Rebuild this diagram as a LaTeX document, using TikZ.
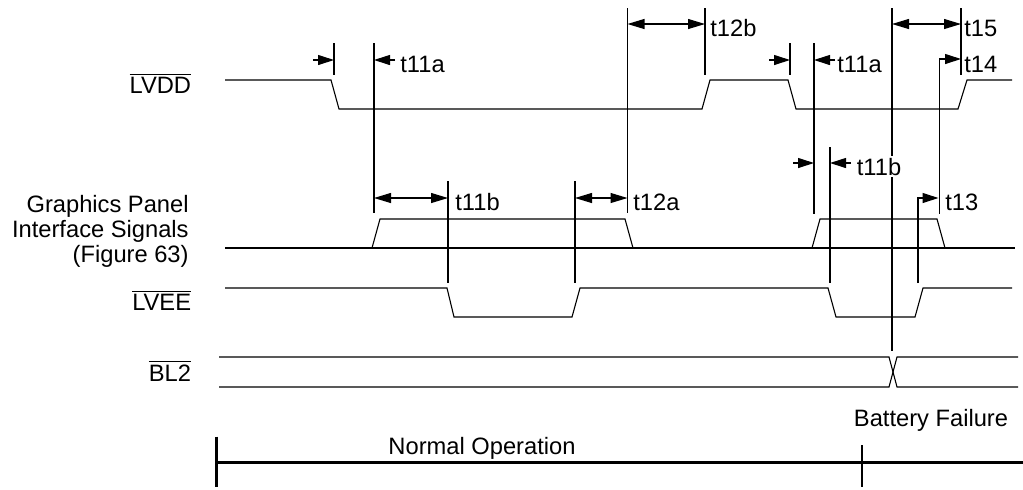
\documentclass[tikz,border=0pt]{standalone}
\usepackage{fontspec}
\setmainfont{Liberation Sans}
\usetikzlibrary{arrows.meta}

\newcommand{\ovl}[1]{$\overline{\mbox{#1}}$}

\begin{document}
\begin{tikzpicture}[
    x=0.5pt, y=-0.5pt,
    wave/.style={line width=0.55pt},
    guide/.style={line width=0.55pt},
    dimarrow/.style={line width=0.55pt, {Triangle[length=8.5pt,width=5pt]}-{Triangle[length=8.5pt,width=5pt]}},
    onearrow/.style={line width=0.55pt, -{Triangle[length=8pt,width=5pt]}},
    sig/.style={font=\fontsize{11.85}{13}\selectfont, anchor=base east, inner sep=0pt},
    tlabel/.style={font=\fontsize{11.85}{13}\selectfont, anchor=base west, inner sep=0pt},
    phase/.style={line width=1.1pt}
]
\useasboundingbox (0,0) rectangle (1023,489);

% --- Signal names ---
\node[sig] (lvdd) at (191.5,93) {\ovl{LVDD}};
\node[sig] (gp1) at (189,212) {Graphics Panel};
\node[sig] (gp2) at (189,237) {Interface Signals};
\node[sig] (gp3) at (189,262) {(Figure 63)};
\node[sig] (lvee) at (191.5,310) {\ovl{LVEE}};
\node[sig] (bl2) at (191.5,381) {\ovl{BL2}};

% --- Waveforms ---
\draw[wave] (225,80) -- (331,80) -- (339,109) -- (702,109) -- (710,80) -- (788,80)
    -- (796,109) -- (958,109) -- (967,80) -- (1012,80);
\draw[wave] (225,248) -- (1015,248);
\draw[wave] (372,248) -- (380,219) -- (625,219) -- (633,248);
\draw[wave] (812,248) -- (820,219) -- (937,219) -- (945,248);
\draw[wave] (225,288) -- (447,288) -- (454,317) -- (572,317) -- (580,288) -- (828,288)
    -- (836,317) -- (915,317) -- (923,288) -- (1012,288);
\draw[wave] (219,357) -- (889,357) -- (897,387) -- (1018,387);
\draw[wave] (219,387) -- (889,387) -- (897,357) -- (1018,357);

% --- Timing guides ---
\draw[guide] (334,43) -- (334,75);
\draw[guide] (374,43) -- (374,213);
\draw[guide] (627.5,8) -- (627.5,213);
\draw[guide] (705,8) -- (705,75);
\draw[guide] (790,43) -- (790,75);
\draw[guide] (814,43) -- (814,214);
\draw[guide] (892,8) -- (892,351);
\draw[guide] (961,8) -- (961,75);
\draw[guide] (448,181) -- (448,283);
\draw[guide] (575,181) -- (575,283);
\draw[guide] (830,147) -- (830,283);
\draw[guide] (939.5,8) ++(0,50) -- (939.5,214);

% --- Timing arrows ---
\draw[onearrow] (313,60) -- (334,60);
\draw[onearrow] (395,60) -- (374,60);
\node[tlabel] (t11a) at (400,72) {t11a};

\draw[dimarrow] (627.5,24) -- (705,24);
\node[tlabel] (t12b) at (710,36.5) {t12b};

\draw[onearrow] (769,60) -- (790,60);
\draw[onearrow] (835,60) -- (814,60);
\node[tlabel] (t11a2) at (837,72) {t11a};

\draw[dimarrow] (892,24) -- (961,24);
\node[tlabel] (t15) at (964,36.5) {t15};

\draw[onearrow] (939.5,59) -- (961,59);
\node[tlabel] (t14) at (964,72) {t14};

\draw[dimarrow] (374,198) -- (448,198);
\node[tlabel] (t11b) at (455,210) {t11b};

\draw[dimarrow] (575,198) -- (627.5,198);
\node[tlabel] (t12a) at (633,210) {t12a};

\draw[onearrow] (793,163) -- (814,163);
\draw[onearrow] (851,163) -- (830,163);
\node[tlabel, fill=white, inner ysep=1pt] (t11b2) at (856.5,175) {t11b};

\draw[onearrow] (918,283) -- (918,198) -- (938.5,198);
\node[tlabel] (t13) at (945,210) {t13};

% --- Operating phases ---
\draw[phase] (216.5,436.5) -- (216.5,486.5);
\draw[phase] (862,445) -- (862,486.5);
\draw[phase] (216.5,462.5) -- (1023,462.5);
\node[tlabel, anchor=base] (normal) at (482,454) {Normal Operation};
\node[tlabel, anchor=base] (battery) at (931,426) {Battery Failure};

\end{tikzpicture}
\end{document}
